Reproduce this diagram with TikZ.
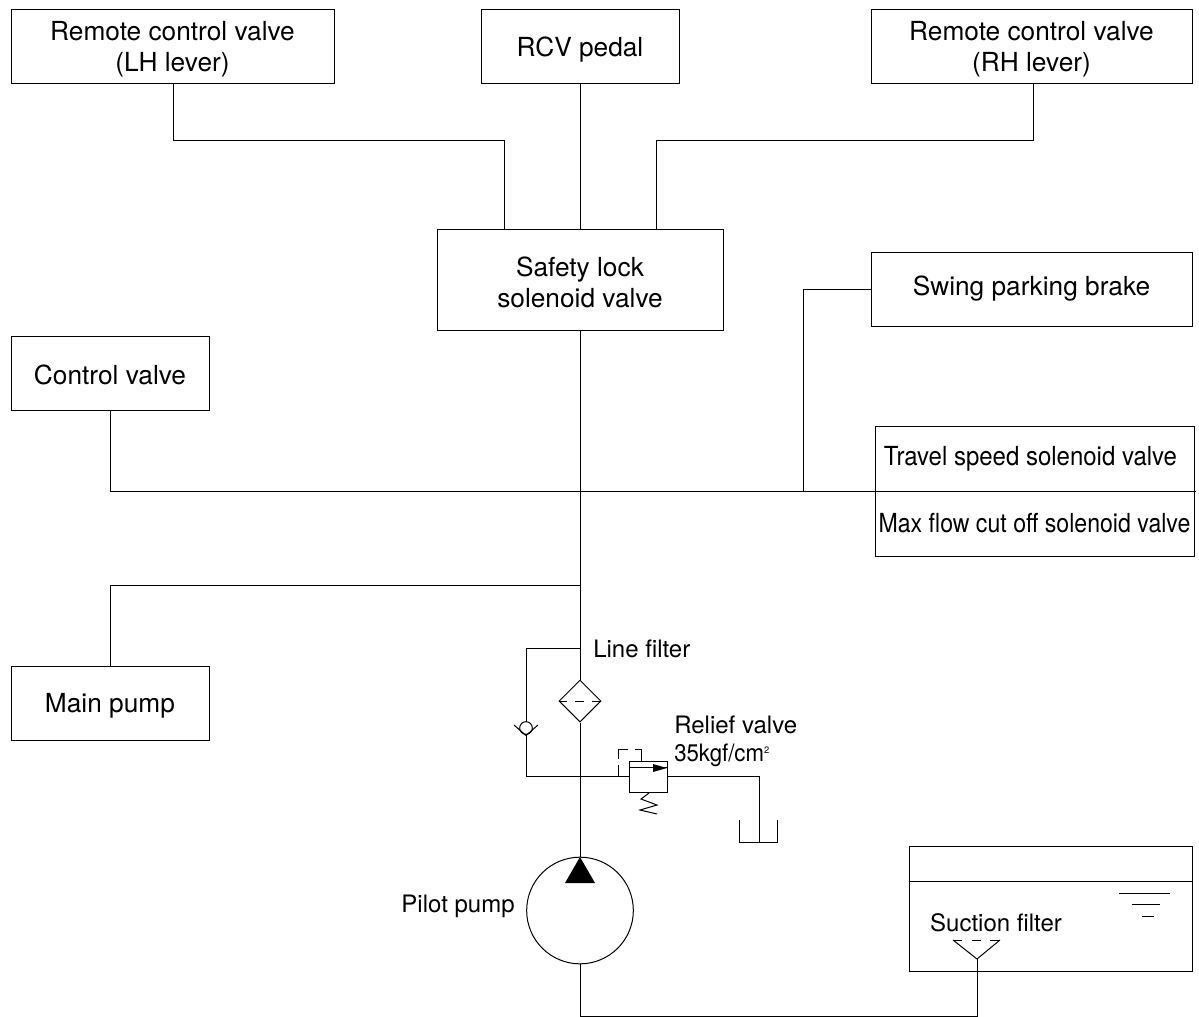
\documentclass[tikz,border=0pt]{standalone}
\usepackage{fontspec}
\setmainfont{TeX Gyre Heros}
\usetikzlibrary{shapes.geometric, positioning, calc}
\begin{document}
\begin{tikzpicture}[
    x=0.75pt, y=-0.75pt,
    line/.style={draw, line width=0.75pt},
    strut/.style={execute at begin node={\rule{0pt}{#1}}},
    box/.style={draw, line width=0.75pt, align=center, font=\fontsize{19.7}{23.5}\selectfont, inner sep=0pt},
    label/.style={font=\fontsize{18}{22}\selectfont, inner sep=0pt},
    symbol/.style={draw, line width=0.75pt},
]
    \useasboundingbox (0,0) rectangle (1199,1017);

    % Boxes
    \node[box, strut=41.5pt, minimum width=242.25pt, minimum height=55.1pt] (lhlever) at (172.5,46.5) {Remote control valve\\(LH lever)};
    \node[box, strut=19pt, minimum width=148.5pt, minimum height=55.1pt] (rcvpedal) at (580,46.5) {RCV pedal};
    \node[box, strut=41.5pt, minimum width=240.75pt, minimum height=55.1pt] (rhlever) at (1031.5,46.5) {Remote control valve\\(RH lever)};
    \node[box, strut=41.5pt, minimum width=214.5pt, minimum height=75.75pt] (safety) at (580,280) {Safety lock\\solenoid valve};
    \node[box, minimum width=240.75pt, minimum height=55.5pt] (swing) at (1031.5,289) {Swing parking brake};
    \node[box, strut=17pt, minimum width=148.5pt, minimum height=55.5pt] (control) at (110,373.5) {Control valve};
    \node[box, strut=18pt, minimum width=148.5pt, minimum height=55.5pt] (mainpump) at (110,703.5) {Main pump};
    \node[box, minimum width=239.25pt, minimum height=48.75pt] (travel) at (1034.5,458.5) {\scalebox{0.913}[1]{Travel speed solenoid valve}\hspace{6pt}};
    \node[box, minimum width=239.25pt, minimum height=48.75pt] (maxflow) at (1034.5,523.5) {\scalebox{0.88}[1]{Max flow cut off solenoid valve}};

    % Pump, filter, tank
    \node[symbol, circle, minimum size=80pt, inner sep=0pt] (pilot) at (580,910.5) {};
    \node[label, anchor=east] (pilotlabel) at (515,906) {Pilot pump};
    \node[symbol, diamond, minimum size=31.5pt, inner sep=0pt] (linefilter) at (580,701) {};
    \node[label, anchor=west] (linelabel) at (593,649) {Line filter};
    \node[label, anchor=west] (relieflabel) at (674,725) {Relief valve};
    \node[label, anchor=west] (pressure) at (674,755) {\scalebox{0.925}[1]{35kgf/cm}\raisebox{6pt}{\fontsize{7}{7}\selectfont 2}};
    \node[symbol, minimum width=28pt, minimum height=23.25pt, inner sep=0pt] (relief) at (648.5,776.5) {};
    \node[symbol, minimum width=212.25pt, minimum height=93.75pt, inner sep=0pt] (tank) at (1050.5,908.5) {};
    \node[label] (suction) at (996,923) {Suction filter};
    \coordinate (junction) at (580,491);
    \coordinate (branch) at (580,585);
    \coordinate (bypass) at (580,648);
    \coordinate (cross) at (580,776);
    \coordinate (strainer) at (977,959);

    % Connectors
    \draw[line] (lhlever.south -| 173,0) |- (504,140) -- (504,229.5);
    \draw[line] (rcvpedal) -- (safety);
    \draw[line] (rhlever.south -| 1033,0) |- (656,140) -- (656,229.5);
    \draw[line] (safety) -- (junction);
    \draw[line] (control.south) |- (junction);
    \draw[line] (junction) -- (1196,491);
    \draw[line] (swing.west) -| (803,491);
    \draw[line] (junction) -- (branch);
    \draw[line] (mainpump.north) |- (branch);
    \draw[line] (branch) -- (linefilter.north);
    \draw[line] (linefilter.south) -- (pilot.north);
    \draw[line] (pilot.south) |- (977,1016) -- (strainer);

    % Check valve bypass
    \draw[line] (bypass) -| (526,722);
    \draw[line] (526,735) -- (526,776) -- (relief.west |- cross);
    \node[symbol, circle, minimum size=9.5pt, inner sep=0pt] (check) at (526,728) {};
    \draw[line] (514,725) -- (526,735.5) -- (538,725);

    % Filter mark
    \draw[line, dash pattern=on 6.3pt off 6.3pt] (linefilter.west) -- (linefilter.east);

    % Relief valve
    \draw[line] (relief.east |- cross) -- (759,776) -- (759,842);
    \draw[line] (739,820) -- (739,842) -- (777,842) -- (777,820);
    \draw[line] (630,767) -- (667,767);
    \fill (653,764) -- (667,768) -- (653,772) -- cycle;
    \draw[line, dash pattern=on 8.25pt off 4.5pt on 15pt off 5pt on 14pt off 2pt] (618,776) -- (618,749) -- (641,749) -- (641,761);
    \draw[line] (649,793) -- (641,799) -- (657,805) -- (640,810) -- (657,814);

    % Tank
    \draw[line] (tank.west |- 0,881) -- (tank.east |- 0,881);
    \draw[line] (1119,893) -- (1170,893);
    \draw[line] (1132,904) -- (1160,904);
    \draw[line] (1142,916) -- (1154,916);
    \draw[line] (953,940) -- (strainer) -- (1000,940);
    \draw[line, dash pattern=on 7pt off 7pt] (953,940) -- (1000,940);

    % Pump mark
    \fill (580,857) -- (595,883) -- (565,883) -- cycle;
\end{tikzpicture}
\end{document}
